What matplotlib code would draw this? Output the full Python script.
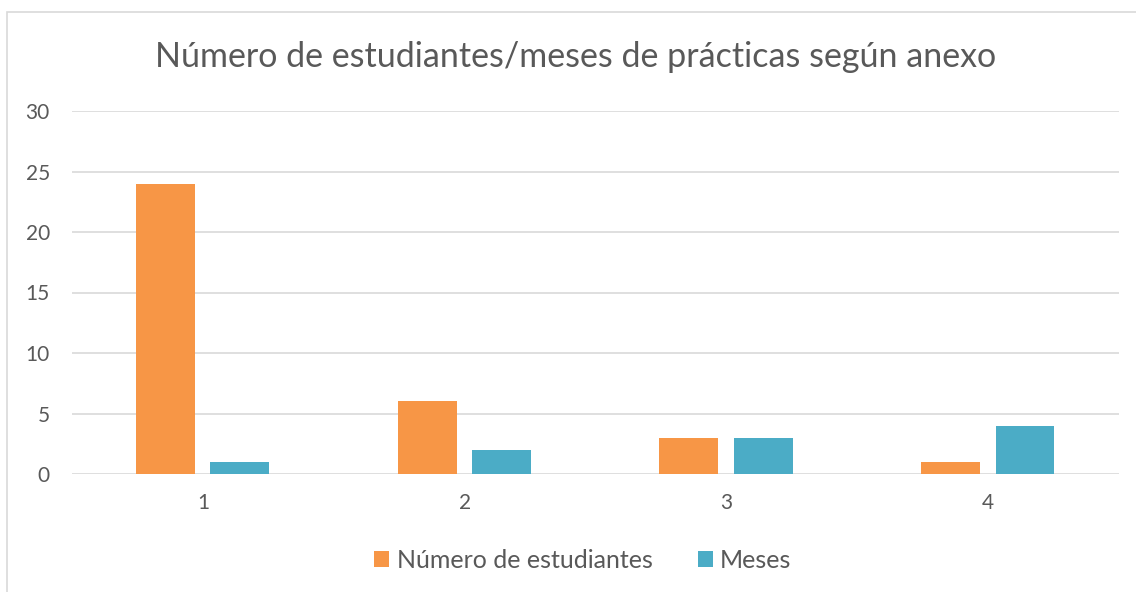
import matplotlib
matplotlib.use("Agg")
import matplotlib.pyplot as plt
import numpy as np
from matplotlib.patches import Rectangle

categorias = ["1", "2", "3", "4"]
estudiantes = [24, 6, 3, 1]
meses = [1, 2, 3, 4]

naranja = "#F79646"
azul = "#4BACC6"
gris = "#595959"

plt.rcParams['font.family'] = ['Lato', 'DejaVu Sans']

fig = plt.figure(figsize=(11.36, 5.92), dpi=100)
ax = fig.add_axes([72/1136, 1-474/592, (1119-72)/1136, (474-111)/592])

x = np.arange(len(categorias))
ancho = 0.225
ax.bar(x - 0.143, estudiantes, ancho, color=naranja, label="Número de estudiantes", zorder=3)
ax.bar(x + 0.141, meses, ancho, color=azul, label="Meses", zorder=3)

ax.set_xlim(-0.5, 3.5)
ax.set_ylim(0, 30)
ax.set_yticks(range(0, 31, 5))
ax.set_xticks(x)
ax.set_xticklabels(categorias)
ax.grid(axis="y", color="#d9d9d9", linewidth=1.2, zorder=0)
for s in ax.spines.values():
    s.set_visible(False)
ax.tick_params(length=0, labelsize=15, colors=gris)
ax.tick_params(axis="y", pad=16)
ax.tick_params(axis="x", pad=14)

fig.text(0.507, 1-57/592, "Número de estudiantes/meses de prácticas según anexo",
         ha="center", va="center", fontsize=24.5, color=gris)

fig.legend(loc="center", bbox_to_anchor=(0.513, 1-560/592), ncol=2, frameon=False,
           fontsize=18, handlelength=0.6, handleheight=0.6, handletextpad=0.3,
           columnspacing=1.8, labelcolor=gris)

fig.patches.append(Rectangle((7/1136, -0.1), 1.2, 1.1 - 12/592, transform=fig.transFigure,
                             fill=False, edgecolor="#d9d9d9", linewidth=1.2))

fig.savefig("out.png", dpi=100)
